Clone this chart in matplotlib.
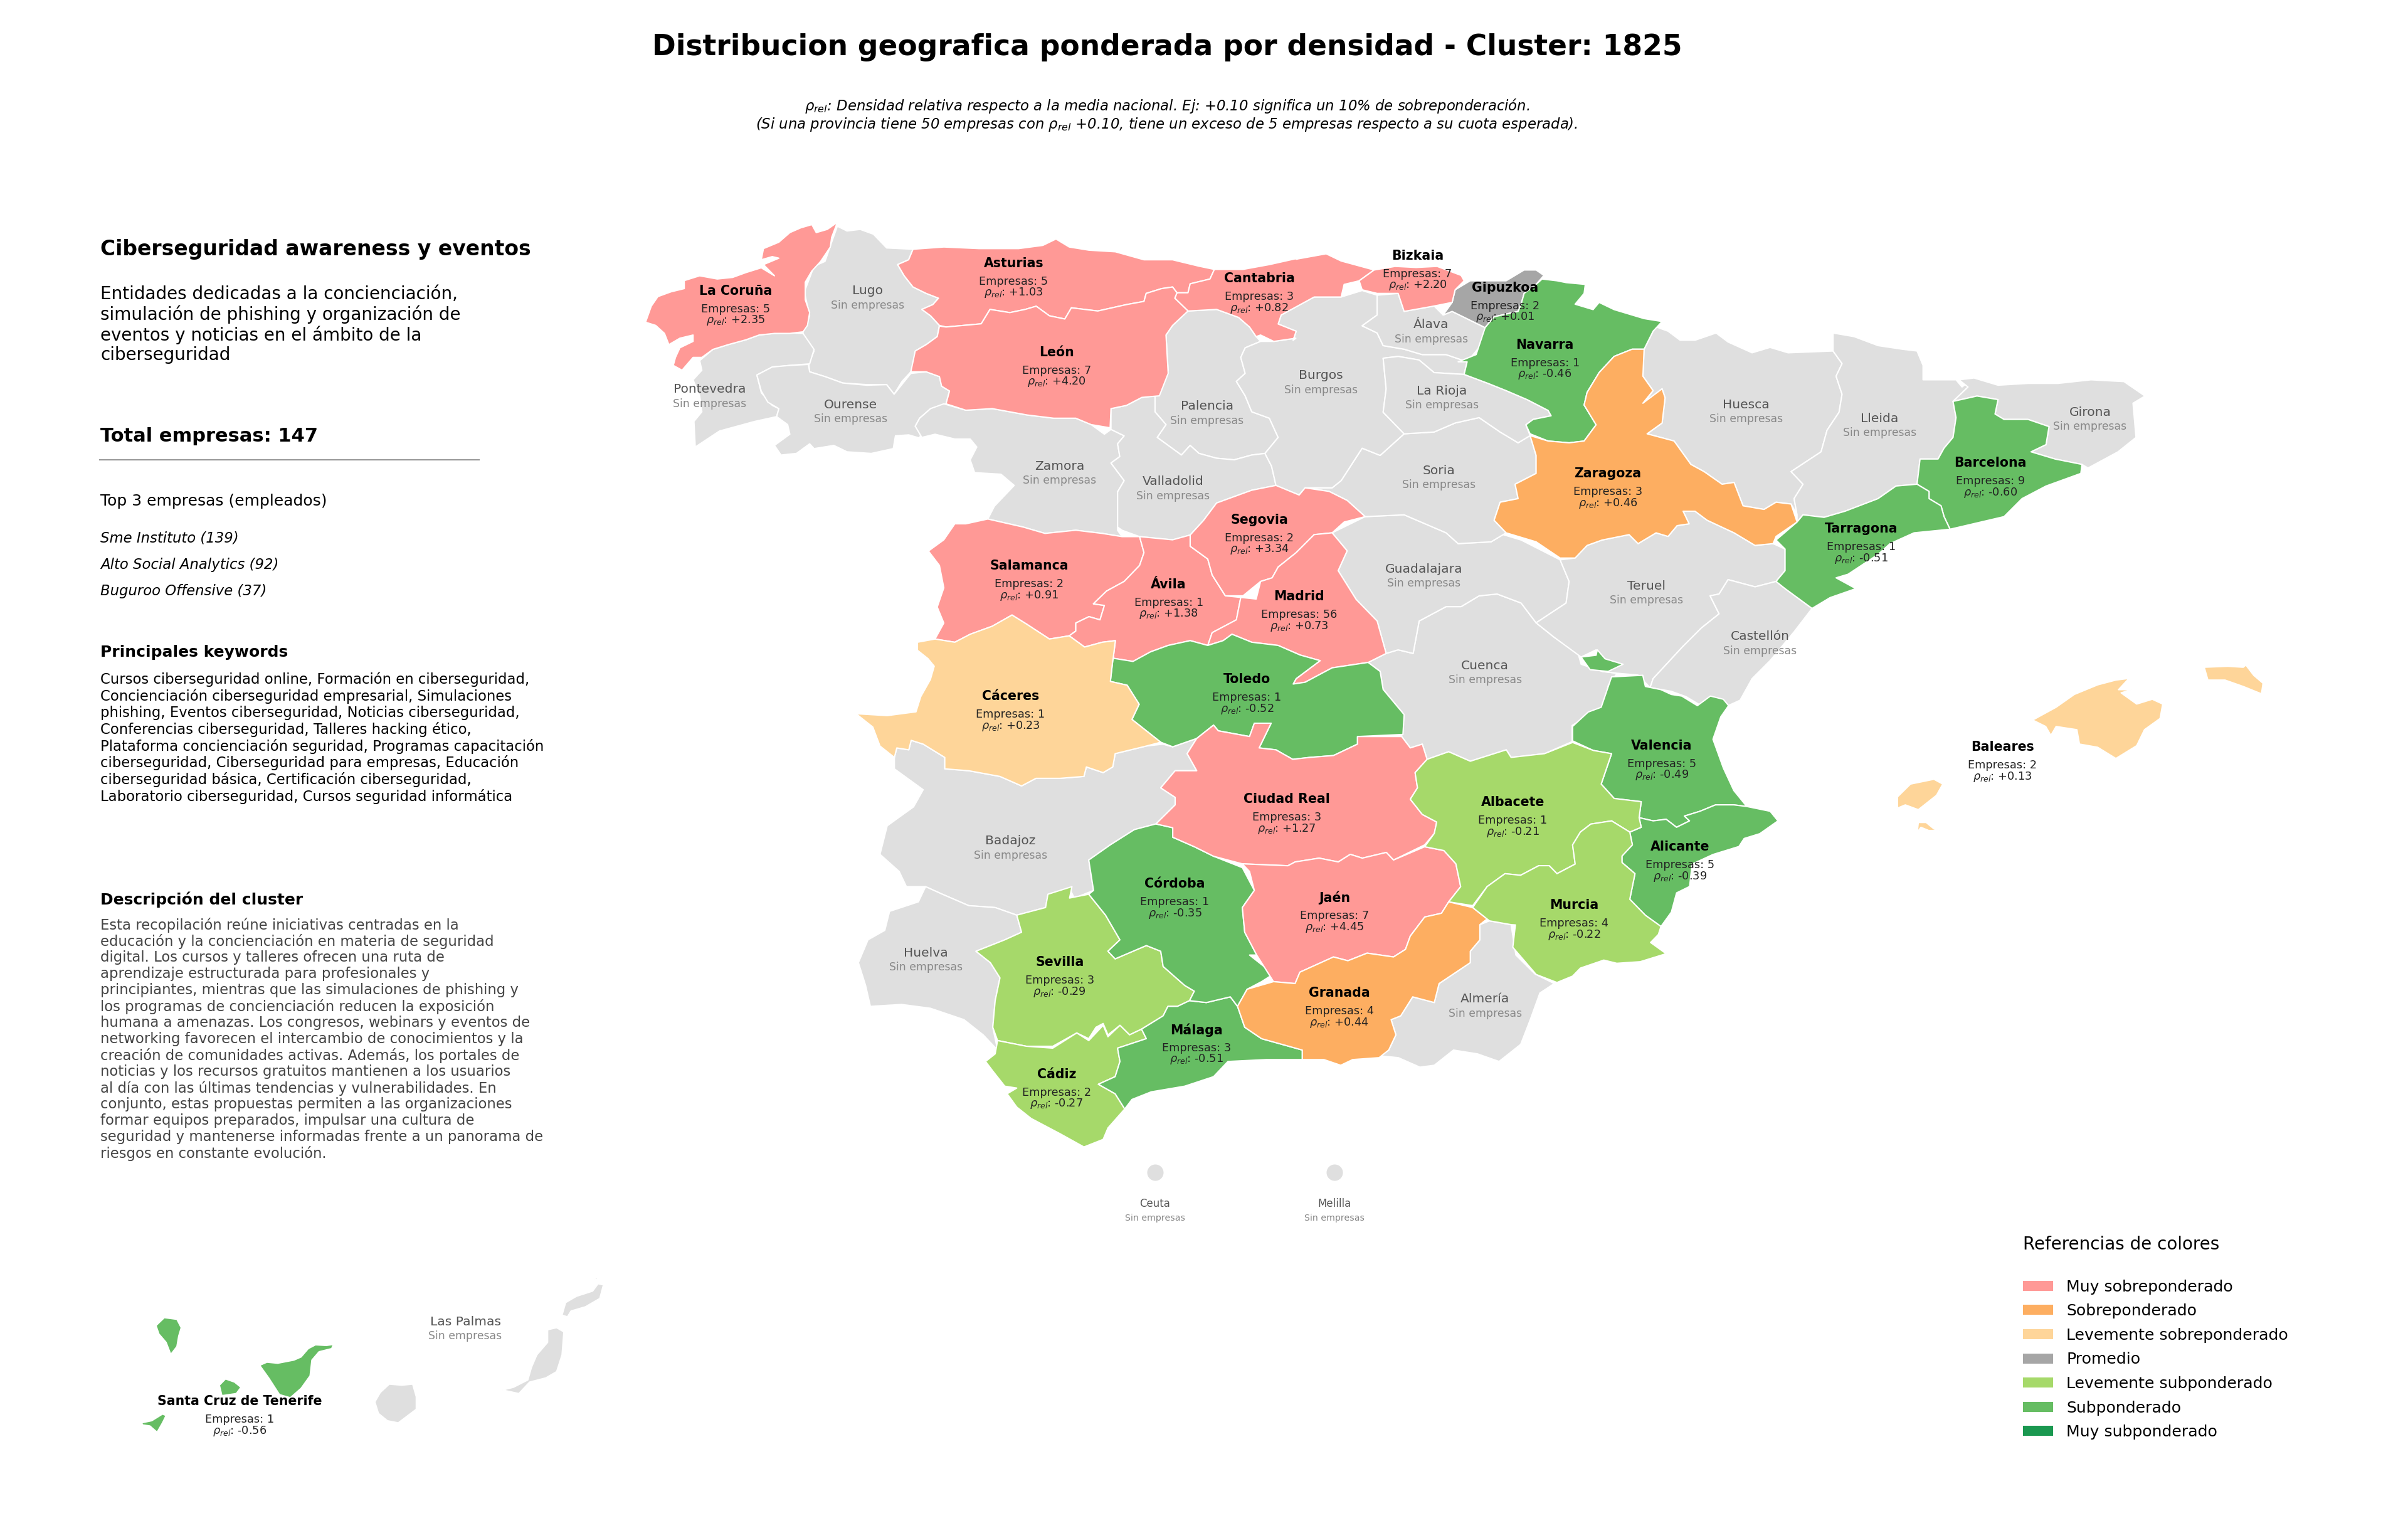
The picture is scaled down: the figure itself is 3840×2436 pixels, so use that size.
import matplotlib
matplotlib.use("Agg")
import matplotlib.pyplot as plt
from matplotlib.patches import Polygon, Patch

plt.rcParams['font.family'] = ['DejaVu Sans']
plt.rcParams['mathtext.default'] = 'it'

# ---------- data ----------
SCALE_MAIN = 3840 / 1568
TITLE = "Distribucion geografica ponderada por densidad - Cluster: 1825"
SUB1 = r"$\rho_{rel}$: Densidad relativa respecto a la media nacional. Ej: +0.10 significa un 10% de sobreponderación."
SUB2 = r"(Si una provincia tiene 50 empresas con $\rho_{rel}$ +0.10, tiene un exceso de 5 empresas respecto a su cuota esperada)."

CLUSTER_NAME = "Ciberseguridad awareness y eventos"
CLUSTER_TAGLINE = ["Entidades dedicadas a la concienciación,", "simulación de phishing y organización de",
                   "eventos y noticias en el ámbito de la", "ciberseguridad"]
TOTAL = "Total empresas: 147"
TOP_HEAD = "Top 3 empresas (empleados)"
TOP_COMPANIES = ["Sme Instituto (139)", "Alto Social Analytics (92)", "Buguroo Offensive (37)"]
KEY_HEAD = "Principales keywords"
KEYWORDS = ["Cursos ciberseguridad online, Formación en ciberseguridad,",
            "Concienciación ciberseguridad empresarial, Simulaciones",
            "phishing, Eventos ciberseguridad, Noticias ciberseguridad,",
            "Conferencias ciberseguridad, Talleres hacking ético,",
            "Plataforma concienciación seguridad, Programas capacitación",
            "ciberseguridad, Ciberseguridad para empresas, Educación",
            "ciberseguridad básica, Certificación ciberseguridad,",
            "Laboratorio ciberseguridad, Cursos seguridad informática"]
DESC_HEAD = "Descripción del cluster"
DESCRIPTION = ["Esta recopilación reúne iniciativas centradas en la",
               "educación y la concienciación en materia de seguridad",
               "digital. Los cursos y talleres ofrecen una ruta de",
               "aprendizaje estructurada para profesionales y",
               "principiantes, mientras que las simulaciones de phishing y",
               "los programas de concienciación reducen la exposición",
               "humana a amenazas. Los congresos, webinars y eventos de",
               "networking favorecen el intercambio de conocimientos y la",
               "creación de comunidades activas. Además, los portales de",
               "noticias y los recursos gratuitos mantienen a los usuarios",
               "al día con las últimas tendencias y vulnerabilidades. En",
               "conjunto, estas propuestas permiten a las organizaciones",
               "formar equipos preparados, impulsar una cultura de",
               "seguridad y mantenerse informadas frente a un panorama de",
               "riesgos en constante evolución."]

LEGEND_LABELS = ["Muy sobreponderado", "Sobreponderado", "Levemente sobreponderado", "Promedio",
                 "Levemente subponderado", "Subponderado", "Muy subponderado"]
LEGEND_COLORS = ["#FF9996", "#FDAE61", "#FED599", "#A6A6A6", "#A6D96A", "#66BD63", "#1A9850"]
NO_DATA = "#DFDFDF"

ACTIVE_NAMES = ["La Coruña", "Asturias", "Cantabria", "Bizkaia", "Gipuzkoa", "Navarra", "León", "Zaragoza",
                "Barcelona", "Tarragona", "Segovia", "Salamanca", "Ávila", "Madrid", "Toledo", "Cáceres",
                "Valencia", "Ciudad Real", "Albacete", "Alicante", "Córdoba", "Jaén", "Murcia", "Sevilla",
                "Granada", "Málaga", "Cádiz", "Baleares", "Santa Cruz de Tenerife"]
ACTIVE_COUNT = [5, 5, 3, 7, 2, 1, 7, 3, 9, 1, 2, 2, 1, 56, 1, 1, 5, 3, 1, 5, 1, 7, 4, 3, 4, 3, 2, 2, 1]
ACTIVE_RHO = [2.35, 1.03, 0.82, 2.20, 0.01, -0.46, 4.20, 0.46, -0.60, -0.51, 3.34, 0.91, 1.38, 0.73, -0.52, 0.23,
              -0.49, 1.27, -0.21, -0.39, -0.35, 4.45, -0.22, -0.29, 0.44, -0.51, -0.27, 0.13, -0.56]
ACTIVE_LABEL_X = [479, 660, 820, 923, 980, 1006, 688, 1047, 1296, 1212, 820, 670, 761, 846, 812, 658,
                  1082, 838, 985, 1094, 765, 869, 1025, 690, 872, 779, 688, 1304, 156]
ACTIVE_LABEL_Y = [189, 171, 181, 166, 187, 224, 229, 308, 301, 344, 338, 368, 380, 388, 442, 453,
                  485, 520, 522, 551, 575, 584, 589, 626, 646, 670, 699, 486, 912]
EMPTY_NAMES = ["Lugo", "Pontevedra", "Ourense", "Palencia", "Burgos", "Álava", "La Rioja", "Huesca", "Lleida",
               "Girona", "Zamora", "Valladolid", "Soria", "Guadalajara", "Teruel", "Castellón", "Cuenca",
               "Badajoz", "Huelva", "Almería", "Las Palmas"]
EMPTY_LABEL_X = [565, 462, 554, 786, 860, 932, 939, 1137, 1224, 1361, 690, 764, 937, 927, 1072, 1146, 967,
                 658, 603, 967, 303]
EMPTY_LABEL_Y = [189, 253, 263, 264, 244, 211, 254, 263, 272, 268, 303, 313, 306, 370, 381, 414, 433,
                 547, 620, 650, 860]
CITY_NAMES = ["Ceuta", "Melilla"]
CITY_LABEL_X = [752, 869]
CITY_LABEL_Y = [783, 783]
CITY_DOT_Y = 763

# outlines; each frame is (left, top, x-scale, y-scale)
A = (1000, 330, 1568 / 1100, 1568 / 800)
B = (2000, 330, 1568 / 1500, 1568 / 900)
C = (1300, 1050, 1568 / 1200, 1568 / 950)
D = (2400, 1000, 1568 / 1300, 1568 / 800)
E = (130, 1960, 1568 / 900, 3.0)

OUTLINES = {
 "La Coruña": [[(A, [(478,48),(465,95),(462,125),(440,170),(420,200),(405,235),(405,290),(415,330),(410,370),(400,390),(370,395),(335,395),(300,400),(270,415),(230,430),(195,445),(170,470),(150,470),(125,510),(105,495),(110,470),(120,440),(150,420),(150,400),(120,410),(95,430),(85,395),(65,370),(42,360),(55,310),(70,280),(100,265),(130,255),(130,230),(165,215),(205,225),(240,220),(270,205),(305,190),(335,215),(310,180),(345,160),(330,155),(305,165),(310,130),(345,110),(370,80),(395,65),(420,55),(430,80),(455,70)])]],
 "Lugo": [[(A, [(478,60),(500,75),(530,70),(560,85),(590,128),(650,132),(640,165),(615,180),(630,215),(650,250),(680,270),(708,285),(695,305),(670,320),(690,340),(710,370),(705,405),(680,430),(655,450),(655,480),(645,515),(625,545),(607,585),(590,555),(545,555),(490,550),(450,530),(415,515),(413,490),(425,450),(400,410),(400,390),(415,340),(403,265),(425,185),(450,170),(465,110)])]],
 "Pontevedra": [[(A, [(400,395),(425,445),(415,490),(370,495),(330,500),(295,525),(305,580),(330,620),(345,630),(340,655),(290,670),(210,700),(155,750),(152,670),(170,640),(165,590),(150,540),(170,510),(165,480),(195,445),(230,430),(270,415),(300,400),(335,395),(370,393)])]],
 "Ourense": [[(A, [(295,525),(330,500),(370,495),(412,492),(415,515),(450,530),(490,550),(545,557),(590,555),(607,585),(645,520),(680,515),(710,530),(715,560),(733,575),(725,615),(690,630),(665,660),(655,685),(670,700),(665,722),(640,712),(610,715),(605,755),(555,770),(500,765),(470,745),(425,755),(415,740),(385,770),(350,775),(335,745),(370,710),(365,680),(340,655),(345,630),(320,610),(305,575)])]],
 "Asturias": [[(A, [(650,132),(720,125),(800,130),(890,130),(945,120),(975,100),(1005,125),(1050,135),(1110,140),(1175,165),(1240,165),(1300,185),(1335,195),(1325,225),(1280,240),(1275,268),(1250,268),(1240,250),(1215,255),(1180,270),(1175,295),(1135,305),(1070,325),(1010,315),(995,350),(960,340),(930,310),(905,320),(870,330),(825,320),(805,365),(725,375),(710,370),(690,340),(670,320),(695,305),(708,285),(680,270),(650,250),(630,215),(615,180),(640,165)])]],
 "Cantabria": [[(A, [(1335,195),(1400,195),(1460,180),(1525,160)]), (B, [(70,145),(120,130),(145,150),(200,175),(175,205),(150,215),(145,250),(100,250),(45,300),(40,325),(70,345),(65,370)]), (A, [(1520,410),(1470,420),(1440,400),(1430,405),(1415,375),(1390,345),(1340,320),(1275,325),(1245,285),(1250,268),(1275,268),(1280,240),(1325,225)])]],
 "León": [[(A, [(710,372),(725,375),(805,365),(825,320),(870,330),(905,320),(930,310),(960,340),(995,350),(1010,315),(1070,325),(1135,305),(1175,295),(1180,270),(1215,255),(1240,250),(1250,268),(1245,285),(1275,325),(1240,370),(1225,400),(1230,520),(1210,590),(1170,595),(1135,620),(1100,630),(1098,690),(1055,680),(1020,660),(970,660),(910,650),(830,630),(770,635),(725,615),(733,575),(715,560),(710,530),(680,515),(645,515),(655,450),(680,430),(705,405)])]],
 "Palencia": [[(A, [(1275,325),(1340,320),(1390,345),(1415,375),(1430,405),(1440,420),(1405,440),(1395,470),(1405,520),(1385,545),(1405,590),(1420,640),(1460,660),(1480,720),(1450,770),(1420,775),(1380,790),(1340,785),(1300,770),(1280,745),(1260,775),(1225,740),(1205,720),(1225,680),(1200,640),(1200,590),(1225,530),(1230,510),(1225,400),(1240,370)])]],
 "Zamora": [[(A, [(770,635),(830,630),(910,650),(970,660),(1020,660),(1055,680),(1085,710),(1100,695),(1130,715),(1115,740),(1120,780),(1100,800),(1130,855),(1115,890),(1115,1010),(1125,1030),(1080,1020),(1020,1010),(950,1020),(900,1000),(820,975),(835,935),(880,870),(850,835),(790,830),(780,790),(795,750),(780,725),(745,725),(700,710),(670,720),(655,685),(665,660),(690,630),(720,615)])]],
 "Valladolid": [[(A, [(1100,630),(1135,620),(1170,595),(1200,590),(1200,640),(1225,680),(1205,720),(1225,740),(1260,775),(1280,745),(1300,770),(1340,785),(1380,790),(1420,775),(1450,770),(1465,810),(1475,870),(1420,885),(1340,925),(1310,980),(1280,1025),(1240,1040),(1165,1030),(1125,1010),(1115,1000),(1115,890),(1130,855),(1100,800),(1120,780),(1115,740),(1130,715),(1100,695)])]],
 "Salamanca": [[(A, [(820,975),(900,1000),(950,1020),(1020,1010),(1080,1020),(1125,1030),(1165,1030),(1175,1080),(1165,1120),(1130,1170),(1090,1200),(1060,1240),(1085,1245),(1075,1290),(1050,1280),(1020,1300),(1020,1325),(1005,1340),(960,1350),(910,1305),(875,1275),(830,1310),(780,1335),(745,1360),(700,1350),(720,1300),(705,1250),(720,1190),(710,1120),(685,1075),(720,1040),(745,990),(770,990)])]],
 "Ávila": [[(A, [(1165,1030),(1240,1040),(1280,1025),(1280,1060),(1320,1100),(1330,1150),(1360,1215),(1395,1220),(1385,1290),(1330,1330),(1320,1370),(1280,1355),(1230,1370),(1190,1390),(1150,1420),(1105,1410),(1110,1355),(1080,1360),(1040,1375),(1005,1340),(1020,1325),(1020,1300),(1050,1280),(1075,1290),(1085,1245),(1060,1240),(1090,1200),(1130,1170),(1165,1120),(1175,1080)])],
           [(C, [(725,225),(750,175),(775,205),(745,232)])]],
 "Segovia": [[(A, [(1475,870)]), (B, [(75,800),(85,780),(125,790),(155,815),(185,860),(150,875),(130,905),(100,910),(70,960),(40,1000),(30,1030)]), (A, [(1440,1170),(1400,1215),(1360,1215),(1330,1150),(1320,1100),(1280,1060),(1280,1025),(1310,980),(1340,925),(1420,885)])]],
 "Madrid": [[(B, [(130,905),(155,955),(140,1010),(170,1090),(205,1150),(220,1240),(190,1265),(130,1280),(85,1320),(65,1325),(70,1310),(110,1260)]), (A, [(1530,1400),(1480,1370),(1420,1360),(1375,1335),(1355,1355),(1320,1370),(1330,1330),(1385,1290),(1395,1220),(1430,1225),(1440,1170)]), (B, [(30,1030),(40,1000),(70,960),(100,910)])]],
 "Toledo": [[(A, [(1105,1410),(1150,1420),(1190,1390),(1230,1370),(1280,1355),(1320,1370),(1355,1355),(1375,1335),(1420,1360),(1480,1370),(1530,1400)]), (B, [(110,1260),(70,1310),(65,1325),(85,1320),(130,1280),(190,1265),(210,1290),(215,1340),(250,1410),(248,1465)]), (C, [(1130,205),(1130,225),(1080,255),(1030,260),(995,265),(960,240),(925,235),(950,170),(915,170),(905,205),(840,190),(830,175),(795,210),(745,232),(720,220),(660,160),(675,120),(650,70),(615,60),(620,5)])]],
 "Cáceres": [[(A, [(660,1360),(700,1350),(745,1360),(780,1335),(830,1310),(875,1275),(910,1305),(960,1350),(1005,1340),(1040,1375),(1080,1360),(1110,1355),(1105,1410)]), (C, [(620,5),(615,60),(650,70),(675,120),(660,160),(720,220),(690,230),(625,250),(620,285),(600,300),(565,285),(560,310),(510,315),(460,315),(430,335),(385,310),(320,295),(270,290),(270,260),(225,225),(200,215),(195,240),(170,235),(165,260),(135,230),(120,180),(85,145),(150,150),(210,140),(220,100),(240,55),(248,20),(235,0)]), (A, [(660,1385)])]],
 "Badajoz": [[(C, [(165,260),(170,235),(195,240),(200,215),(225,225),(270,260),(270,290),(320,295),(385,310),(430,335),(460,315),(510,315),(560,310),(565,285),(600,300),(620,285),(625,250),(690,230),(725,225),(745,232),(795,210),(775,250),(795,295),(750,295),(720,340),(750,365),(750,385),(710,435),(665,450),(615,490),(570,530),(580,610),(540,630),(530,605),(485,620),(480,655),(420,675),(375,655),(320,650),(265,620),(230,600),(190,600),(175,560),(135,515),(150,440),(205,390),(225,345),(165,290)])]],
 "Huelva": [[(C, [(230,600),(265,620),(320,650),(375,655),(420,675),(430,720),(395,740),(335,770),(365,800),(385,840),(375,900),(370,970),(380,1030),(350,990),(310,950),(240,920),(180,910),(115,915),(105,860),(90,800),(110,740),(145,715),(155,665),(215,640)])]],
 "Sevilla": [[(C, [(420,675),(480,655),(485,620),(535,600),(530,630),(570,620),(605,675),(635,740),(610,770),(625,790),(690,755),(720,770),(725,810),(770,860),(790,875),(780,900),(755,915),(735,915),(725,940),(680,975),(655,990),(635,965),(610,990),(600,960),(585,970),(570,1000),(545,985),(495,1020),(440,1020),(380,1005),(370,970),(375,900),(385,840),(365,800),(335,770),(395,740),(430,720)])]],
 "Cádiz": [[(C, [(380,1005),(440,1020),(495,1025),(545,985),(570,1005),(600,965),(610,995),(635,965),(655,990),(680,975),(690,1000),(630,1025),(635,1060),(625,1100),(590,1120),(625,1145),(645,1185),(610,1235),(600,1265),(560,1285),(510,1250),(450,1210),(420,1180),(400,1145),(420,1130),(395,1125),(370,1085),(355,1060),(375,1040)])]],
 "Málaga": [[(C, [(680,975),(725,940),(735,915),(755,915),(780,900),(815,905),(865,890),(880,915),(895,970),(930,1000),(1015,1030),(1015,1055),(940,1055),(860,1060),(830,1100),(770,1125),(700,1140),(660,1160),(645,1185),(625,1145),(590,1120),(625,1100),(635,1060),(630,1025),(690,1000)])]],
 "Córdoba": [[(C, [(710,435),(745,445),(745,470),(790,495),(830,520),(890,550),(915,610),(890,655),(895,720),(920,780),(905,780),(955,830),(930,850),(900,870),(880,915),(865,890),(815,905),(780,900),(790,875),(770,860),(725,810),(720,770),(690,755),(625,790),(610,770),(635,740),(605,675),(570,620),(580,610),(570,530),(615,490),(665,450)])]],
 "Ciudad Real": [[(C, [(795,210),(830,175),(840,190),(905,205),(915,170),(950,170),(925,235),(960,240),(995,265),(1030,260),(1080,255),(1130,225),(1130,205),(1222,205),(1240,235),(1265,225),(1275,265),(1250,300),(1255,340),(1240,370),(1265,410),(1295,430),(1290,460),(1270,490),(1205,530),(1190,510),(1140,525),(1115,515),(1090,535),(1050,525),(1000,535),(985,545),(890,540),(830,520),(790,495),(745,470),(745,445),(710,435),(750,385),(750,365),(720,340),(750,295),(795,295),(775,250)])]],
 "Jaén": [[(C, [(890,540),(985,545),(1000,535),(1050,525),(1090,535),(1115,515),(1140,525),(1190,510),(1205,530),(1270,495),(1310,505),(1335,540),(1345,600),(1320,640),(1305,670),(1270,680),(1240,730),(1230,765),(1205,785),(1150,775),(1110,795),(1080,785),(1010,825),(1000,855),(955,850),(920,780),(895,720),(890,655),(915,610),(905,560)])]],
 "Granada": [[(C, [(955,850),(1000,855),(1010,825),(1080,785),(1110,795),(1150,775),(1205,785),(1230,765),(1240,730),(1270,680),(1305,670),(1320,640),(1370,655),(1400,685),(1385,700),(1385,740),(1365,770),(1365,800),(1300,855),(1290,905),(1245,890),(1220,940),(1200,950),(1210,990),(1195,1030),(1175,1050),(1120,1055),(1095,1070),(1060,1055),(1015,1055),(1015,1030),(930,1000),(895,970),(880,915),(900,870)])]],
 "Almería": [[(C, [(1385,700),(1405,690),(1450,700),(1460,780),(1500,830),(1540,855),(1510,880),(1490,950),(1470,1015),(1425,1060),(1380,1040),(1330,1030),(1290,1070),(1260,1075),(1215,1050),(1175,1045),(1195,1030),(1210,990),(1200,950),(1220,940),(1245,890),(1290,905),(1300,855),(1365,800),(1365,770),(1385,740)])]],
 "Cuenca": [[(B, [(220,1240),(240,1230),(265,1240),(275,1150),(320,1110),(345,1110),(375,1080),(405,1075),(445,1100),(470,1155),(500,1195),(540,1240),(545,1270),(580,1290),(605,1295),(590,1330),(585,1385),(530,1440),(530,1485)]), (C, [(1520,250),(1450,260),(1440,240),(1365,270),(1320,245),(1275,265),(1265,225),(1240,235),(1222,205)]), (B, [(250,1410),(215,1340),(210,1290),(190,1265)])]],
 "Guadalajara": [[(B, [(130,905),(185,860),(250,855),(320,905),(340,935),(395,930),(415,910),(445,925),(510,980),(525,1040),(520,1100),(470,1155),(445,1100),(405,1075),(375,1080),(345,1110),(320,1110),(275,1150),(265,1240),(240,1230),(220,1240),(205,1150),(170,1090),(140,1010),(155,955)])]],
 "Soria": [[(B, [(145,760),(180,670),(210,690),(250,630),(300,625),(335,600),(375,585),(410,625),(440,655),(460,635),(470,690),(470,740),(435,770),(440,810),(410,820),(400,870),(420,905),(415,910),(395,930),(340,935),(320,905),(250,855),(185,860),(155,815),(125,790),(85,780),(130,780)])]],
 "Burgos": [[(A, [(1440,420),(1405,440),(1395,470),(1405,520),(1385,545),(1405,590),(1420,640),(1460,660),(1480,720),(1450,770),(1465,810),(1475,870)]), (B, [(75,800),(85,780),(130,780),(145,760),(180,670),(210,690),(250,630),(215,570),(220,505),(215,420),(240,415),(275,425),(300,460),(350,465),(355,430),(320,410),(280,410),(250,395),(215,385),(205,350),(180,330),(205,300),(205,245),(180,232),(145,250),(100,250),(45,300),(40,325),(70,345),(65,370)]), (A, [(1520,410),(1470,420)])]],
 "Álava": [[(B, [(205,245),(240,240),(250,290),(300,275),(315,300),(330,290),(385,335),(385,370),(370,400),(355,430),(320,410),(280,410),(250,395),(215,385),(205,350),(180,330),(205,300)])]],
 "Gipuzkoa": [[(B, [(335,230),(360,205),(420,205),(450,175),(470,175),(483,190),(470,215),(450,240),(445,270),(440,290),(400,305),(385,335),(330,290),(315,300),(330,265)])]],
 "Bizkaia": [[(B, [(200,175),(235,165),(270,168),(305,165),(345,190),(350,205),(335,230),(330,265),(300,275),(250,290),(240,240),(205,240),(180,230),(175,205)])]],
 "Navarra": [[(B, [(450,240),(470,215),(480,200),(505,205),(520,210),(552,215),(550,240),(535,270),(565,285),(575,265),(600,285),(650,310),(680,318),(665,345),(650,395),(630,395),(600,415),(575,460),(555,515),(550,550),(570,605),(550,650),(525,655),(490,650),(460,630),(453,605),(465,590),(495,580),(490,565),(455,535),(420,510),(390,490),(350,465),(355,430),(340,430),(370,410),(385,335),(400,305),(440,290),(445,270)])]],
 "La Rioja": [[(B, [(215,420),(240,415),(275,425),(300,460),(350,465),(390,490),(420,510),(455,535),(490,565),(495,580),(465,590),(453,605),(460,635),(440,655),(410,625),(375,585),(335,600),(300,625),(250,630),(215,570),(220,505)])]],
 "Zaragoza": [[(B, [(650,395),(648,470),(665,510),(648,545),(680,505),(685,530),(680,600),(655,630),(700,650),(728,715),(750,735),(780,770),(800,765),(815,830),(850,840),(870,820),(895,825),(905,875),(870,915),(865,935),(835,940),(800,905),(755,870),(735,845),(715,845),(725,880),(705,885),(690,915),(670,905),(640,935),(625,910),(580,925),(555,940),(535,975),(510,975),(470,930),(420,905),(400,870),(410,820),(440,810),(435,770),(470,740),(470,690),(460,635),(490,650),(525,655),(550,650),(570,605),(550,550),(555,515),(575,460),(600,415),(630,395)])]],
 "Huesca": [[(B, [(665,330),(690,345),(710,370),(735,370),(770,350),(790,375),(830,405),(860,390),(890,405),(965,400),(980,435),(970,470),(980,520),(975,570),(955,620),(945,680),(895,735),(915,770),(900,810),(905,855),(895,825),(870,820),(850,840),(815,830),(800,765),(780,770),(750,735),(728,715),(700,650),(655,630),(680,600),(685,530),(680,505),(650,545),(665,510),(648,470),(650,395),(665,345)])]],
 "Lleida": [[(B, [(965,350),(1000,360),(1040,385),(1080,395),(1105,400),(1115,440),(1115,480),(1170,480),(1180,500),(1195,480),(1190,500),(1165,540),(1170,585),(1165,640),(1150,670),(1140,700),(1110,700),(1105,770),(1070,775),(1040,810),(985,845),(950,862),(915,855),(905,875),(905,855),(900,810),(915,770),(895,735),(945,680),(955,620),(975,570),(980,520),(970,470),(980,435),(965,400)])]],
 "Girona": [[(B, [(1175,480),(1200,475),(1240,495),(1290,490),(1340,490),(1395,480),(1450,485),(1485,525),(1465,545),(1470,640),(1440,680),(1390,725),(1380,715),(1335,700),(1295,680),(1320,660),(1325,610),(1290,590),(1250,590),(1235,575),(1240,535),(1205,525),(1165,540),(1190,500)])]],
 "Barcelona": [[(B, [(1165,540),(1205,525),(1240,535),(1235,575),(1250,590),(1290,590),(1325,610),(1320,660),(1295,680),(1335,700),(1380,715),(1378,740),(1320,775),(1280,810),(1250,860),(1160,895),(1150,860),(1145,830),(1125,810),(1125,790),(1105,770),(1110,700),(1140,700),(1150,670),(1165,640),(1170,585)])]],
 "Tarragona": [[(B, [(905,875),(915,855),(950,862),(985,845),(1040,810),(1070,775),(1105,770),(1125,790),(1125,810),(1145,830),(1150,860),(1160,895),(1100,905),(1060,935),(1040,965),(990,1020),(970,1030),(1003,1060),(960,1085),(930,1115),(885,1060),(870,1040),(885,1010),(885,950),(870,925)])]],
 "Teruel": [[(B, [(510,980),(535,975),(555,940),(580,925),(625,910),(640,935),(670,905),(690,915),(705,885),(725,880),(715,845),(735,845),(755,870),(800,905),(835,940),(865,935),(885,950),(885,1010),(870,1040),(835,1055),(790,1035),(775,1075),(760,1080),(775,1130),(745,1170),(715,1220),(690,1265),(665,1310),(660,1335),(640,1300),(605,1295),(580,1290),(610,1270),(585,1255),(570,1230),(545,1250),(500,1195),(470,1155),(520,1100),(525,1040)])]],
 "Castellón": [[(B, [(885,1060),(930,1115),(900,1180),(860,1260),(830,1310),(810,1370),(790,1385),(745,1385),(720,1360),(695,1345),(660,1335),(665,1310),(690,1265),(715,1220),(745,1170),(775,1130),(760,1080),(775,1075),(790,1035),(835,1055),(870,1040)])]],
 "Valencia": [[(D, [(205,155),(265,150),(270,185),(300,195),(320,210),(340,215),(370,245),(395,215),(420,225),(430,245),(415,280),(400,350),(420,440),(440,510),(465,560),(440,555),(405,555),(375,575),(345,590),(355,605),(330,625),(310,600),(285,605),(258,595),(262,545),(210,535),(185,490),(205,395),(170,385),(130,355),(130,310),(160,265),(185,250)])],
              [(B, [(545,1250),(570,1245),(572,1230),(585,1255),(615,1270),(590,1290),(560,1285)])]],
 "Alicante": [[(D, [(258,595),(285,605),(310,600),(330,625),(355,605),(345,590),(375,575),(405,555),(440,555),(465,560),(510,575),(525,605),(490,645),(460,660),(450,685),(400,710),(360,740),(355,810),(330,830),(320,890),(300,935),(270,900),(240,850),(250,770),(225,735),(225,715),(245,680),(240,640),(262,625)])]],
 "Albacete": [[(C, [(1275,265),(1320,245),(1365,270),(1440,240),(1450,260),(1520,250)]), (D, [(130,360),(170,385),(205,395),(185,490),(210,535),(262,545),(258,595),(262,625),(240,640),(205,605),(165,615),(145,640),(130,680),(135,740),(100,770),(85,745),(65,745),(30,775),(0,770)]), (C, [(1400,600),(1370,650),(1320,640),(1345,600),(1335,540),(1310,505),(1270,495),(1290,460),(1295,430),(1265,410),(1240,370),(1255,340),(1250,300)])]],
 "Murcia": [[(D, [(0,770),(30,775),(65,745),(85,745),(100,770),(135,740),(130,680),(145,640),(165,615),(205,605),(240,640),(245,680),(225,715),(225,735),(250,770),(240,850),(270,900),(300,935),(295,960),(280,985),(310,1020),(260,1045),(215,1050),(190,1040),(145,1065),(130,1090),(100,1110),(60,1085),(15,1000),(20,930)]), (C, [(1450,700),(1405,690),(1400,685),(1370,655),(1400,600)])]],
 "Baleares": [[(D, [(1015,290),(1060,250),(1095,210),(1140,180),(1175,165),(1200,160),(1180,195),(1205,195),(1185,205),(1215,240),(1245,225),(1265,240),(1260,285),(1230,320),(1215,370),(1175,410),(1140,375),(1105,365),(1100,320),(1060,310),(1050,338),(1040,310)])],
              [(D, [(1345,125),(1390,122),(1420,125),(1425,118),(1440,150),(1458,175),(1455,208),(1420,185),(1385,165),(1352,165)])],
              [(D, [(755,530),(780,490),(825,475),(842,490),(830,525),(795,570),(770,555),(755,565)])],
              [(D, [(795,610),(810,610),(825,630),(835,635),(815,635),(800,625),(793,640)])]],
 "Santa Cruz de Tenerife": [[(E, [(207,460),(230,422),(265,430),(277,470),(270,510),(265,560),(248,598),(235,540),(215,500)])],
              [(E, [(495,650),(515,635),(545,640),(590,625),(610,610),(630,570),(650,552),(680,555),(700,550),(695,570),(660,585),(640,625),(635,700),(610,760),(580,805),(550,790),(520,710)])],
              [(E, [(383,745),(400,715),(425,730),(443,755),(430,785),(390,795)])],
              [(E, [(167,925),(195,915),(225,883),(235,890),(225,925),(210,970),(190,940),(170,935)])]],
 "Las Palmas": [[(E, [(815,825),(830,780),(855,740),(890,745),(920,740),(930,800),(930,860),(880,925),(850,915),(825,880)])],
              [(E, [(1170,768),(1200,755),(1240,720),(1250,660),(1265,600),(1295,540),(1295,480),(1320,470),(1340,490),(1335,600),(1320,680),(1290,710),(1245,730),(1215,785)])],
              [(E, [(1335,410),(1345,350),(1375,320),(1420,295),(1435,260),(1450,265),(1440,330),(1400,370),(1360,390),(1350,418)])],
              [(E, [(1425,240),(1430,228),(1435,240)])]],
}


def category_colour(rho):
    if rho > 0.5:
        return LEGEND_COLORS[0]
    if rho > 0.25:
        return LEGEND_COLORS[1]
    if rho > 0.05:
        return LEGEND_COLORS[2]
    if rho >= -0.05:
        return LEGEND_COLORS[3]
    if rho >= -0.30:
        return LEGEND_COLORS[4]
    if rho >= -0.60:
        return LEGEND_COLORS[5]
    return LEGEND_COLORS[6]


def ring_points(ring):
    pts = []
    for (left, top, sx, sy), part in ring:
        pts += [(left + x / sx, top + y / sy) for x, y in part]
    return pts


fig = plt.figure(figsize=(19.2, 12.18), dpi=200, facecolor="white")
ax = fig.add_axes([0, 0, 1, 1])
ax.set_xlim(0, 3840)
ax.set_ylim(2436, 0)
ax.axis("off")

colour_of = {n: category_colour(r) for n, r in zip(ACTIVE_NAMES, ACTIVE_RHO)}
for name, rings in OUTLINES.items():
    for ring in rings:
        ax.add_patch(Polygon(ring_points(ring), closed=True, facecolor=colour_of.get(name, NO_DATA),
                             edgecolor="white", linewidth=0.75, joinstyle="round",
                             zorder=2 if name in colour_of else 1))

ax.scatter([x * SCALE_MAIN for x in CITY_LABEL_X], [CITY_DOT_Y * SCALE_MAIN] * 2, s=88,
           color=NO_DATA, linewidths=0, zorder=2)

# province labels
for name, n, rho, mx, my in zip(ACTIVE_NAMES, ACTIVE_COUNT, ACTIVE_RHO, ACTIVE_LABEL_X, ACTIVE_LABEL_Y):
    x, y = mx * SCALE_MAIN, my * SCALE_MAIN + 1
    ax.text(x, y, name, ha="center", va="center", fontsize=7.4, fontweight="bold", color="black", zorder=5)
    ax.text(x, y + 29, f"Empresas: {n}", ha="center", va="center", fontsize=6.4, color="#222222", zorder=5)
    ax.text(x, y + 47, r"$\rho_{rel}$: " + f"{rho:+.2f}", ha="center", va="center", fontsize=6.4,
            color="#222222", zorder=5)
for name, mx, my in zip(EMPTY_NAMES, EMPTY_LABEL_X, EMPTY_LABEL_Y):
    x, y = mx * SCALE_MAIN, my * SCALE_MAIN + 1
    ax.text(x, y, name, ha="center", va="center", fontsize=7.3, color="#555555", zorder=5)
    ax.text(x, y + 23, "Sin empresas", ha="center", va="center", fontsize=6.2, color="#888888", zorder=5)
for name, mx, my in zip(CITY_NAMES, CITY_LABEL_X, CITY_LABEL_Y):
    x, y = mx * SCALE_MAIN, my * SCALE_MAIN + 1
    ax.text(x, y, name, ha="center", va="center", fontsize=6, color="#555555", zorder=5)
    ax.text(x, y + 23, "Sin empresas", ha="center", va="center", fontsize=5.1, color="#888888", zorder=5)

# title
ax.text(1861, 75, TITLE, ha="center", va="center", fontsize=16.4, fontweight="bold", color="black")
ax.text(1861, 169, SUB1, ha="center", va="center", fontsize=8.2, style="italic", color="black")
ax.text(1861, 198, SUB2, ha="center", va="center", fontsize=8.2, style="italic", color="black")

# left panel
LX = 160
ax.text(LX, 398, CLUSTER_NAME, va="center", fontsize=11.9, fontweight="bold")
for i, line in enumerate(CLUSTER_TAGLINE):
    ax.text(LX, 469 + i * 32.4, line, va="center", fontsize=10)
ax.text(LX, 695, TOTAL, va="center", fontsize=11, fontweight="bold")
ax.plot([159, 764], [733, 733], color="#999999", lw=0.8)
ax.text(LX, 799, TOP_HEAD, va="center", fontsize=9)
for i, line in enumerate(TOP_COMPANIES):
    ax.text(LX, 858 + i * 42, line, va="center", fontsize=8.2, style="italic")
ax.text(LX, 1040, KEY_HEAD, va="center", fontsize=9, fontweight="bold")
for i, line in enumerate(KEYWORDS):
    ax.text(LX, 1083 + i * 26.7, line, va="center", fontsize=8.2)
ax.text(LX, 1434, DESC_HEAD, va="center", fontsize=9, fontweight="bold")
for i, line in enumerate(DESCRIPTION):
    ax.text(LX, 1475 + i * 26, line, va="center", fontsize=8.2, color="#444444")

# legend
handles = [Patch(facecolor=c, edgecolor="none", label=l) for c, l in zip(LEGEND_COLORS, LEGEND_LABELS)]
leg = ax.legend(handles=handles, loc="upper left", bbox_to_anchor=(3226 / 3840, 1 - 1970 / 2436),
                title="Referencias de colores\n", alignment="left", frameon=False, fontsize=9.05,
                title_fontsize=10, borderpad=0, borderaxespad=0, handlelength=1.9, handleheight=0.6,
                handletextpad=0.85, labelspacing=0.58)
leg.get_title().set_linespacing(0.96)

fig.savefig("out.png", dpi=200, facecolor="white")
